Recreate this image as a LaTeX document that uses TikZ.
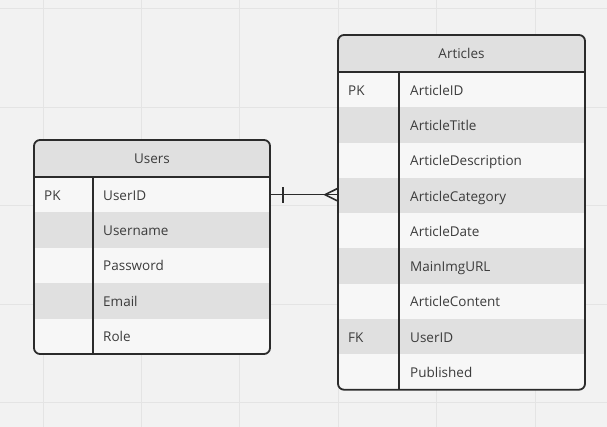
\documentclass[tikz,border=0pt]{standalone}
\usepackage{fontspec}
\setmainfont{Open Sans}
\definecolor{bg}{HTML}{F2F2F2}
\definecolor{gridc}{HTML}{E4E4E4}
\definecolor{hdrc}{HTML}{E0E0E0}
\definecolor{lightc}{HTML}{F7F7F7}
\definecolor{darkc}{HTML}{E0E0E0}
\definecolor{linec}{HTML}{2B2B2B}
\definecolor{txtc}{HTML}{3C3C3C}
\begin{document}
\begin{tikzpicture}[x=1pt,y=-1pt,
  tbl/.style={draw=linec, line width=1.8pt, rounded corners=6pt, inner sep=0pt},
  fld/.style={anchor=west, inner sep=0pt, text height=11pt, text depth=0pt, text=txtc,
     font=\fontsize{13.5}{16}\selectfont},
  ttl/.style={fld, anchor=center},
  rule/.style={draw=linec, line width=1.8pt},
  conn/.style={draw=linec, line width=1.6pt}]
\fill[bg] (0,0) rectangle (607,427);
\useasboundingbox (0,0) rectangle (607,427);
\foreach \gx in {43,141.4,239.8,338.2,436.6,535}
  \draw[gridc, line width=1pt] (\gx,0) -- (\gx,427);
\foreach \gy in {9,107.4,205.8,304.2,402.6}
  \draw[gridc, line width=1pt] (0,\gy) -- (607,\gy);

% ---------- Users ----------
\begin{scope}
\clip[rounded corners=6pt] (34,140) rectangle (270,354);
\fill[lightc] (34,140) rectangle (270,354);
\fill[hdrc] (34,140) rectangle (270,177);
\fill[darkc] (34,212.4) rectangle (270,247.8);
\fill[darkc] (34,283.2) rectangle (270,318.6);
\end{scope}
\node[tbl, minimum width=236pt, minimum height=214pt] (users) at (152,247) {};
\draw[rule] (34,177) -- (270,177);
\draw[rule] (93,177) -- (93,354);
\node[ttl] (ut) at (152,158.5) {Users};
\node[fld] (upk) at (44,194.7) {PK};
\node[fld] (u1) at (103,194.7) {UserID};
\node[fld] (u2) at (103,230.1) {Username};
\node[fld] (u3) at (103,265.5) {Password};
\node[fld] (u4) at (103,300.9) {Email};
\node[fld] (u5) at (103,336.3) {Role};

% ---------- Articles ----------
\begin{scope}
\clip[rounded corners=6pt] (338,35) rectangle (585,389.7);
\fill[lightc] (338,35) rectangle (585,389.7);
\fill[hdrc] (338,35) rectangle (585,72);
\foreach \ry in {107.3,177.9,248.5,319.1}
  \fill[darkc] (338,\ry) rectangle (585,\ry+35.3);
\end{scope}
\node[tbl, minimum width=247pt, minimum height=354.7pt] (articles) at (461.5,212.35) {};
\draw[rule] (338,72) -- (585,72);
\draw[rule] (399,72) -- (399,389.7);
\node[ttl] (at) at (461.5,53.5) {Articles};
\node[fld] (apk) at (348,89.65) {PK};
\node[fld] (a1) at (410,89.65) {ArticleID};
\node[fld] (a2) at (410,124.95) {ArticleTitle};
\node[fld] (a3) at (410,160.25) {ArticleDescription};
\node[fld] (a4) at (410,195.55) {ArticleCategory};
\node[fld] (a5) at (410,230.85) {ArticleDate};
\node[fld] (a6) at (410,266.15) {MainImgURL};
\node[fld] (a7) at (410,301.45) {ArticleContent};
\node[fld] (afk) at (348,336.75) {FK};
\node[fld] (a8) at (410,336.75) {UserID};
\node[fld] (a9) at (410,372.05) {Published};

% ---------- relation ----------
\coordinate (cs) at (users.east |- u1);
\coordinate (ce) at (articles.west |- u1);
\coordinate (tick) at (283,194.7);
\coordinate (cf) at (325,194.7);
\draw[conn] (cs) -- (ce);
\draw[conn] ([yshift=-8pt]tick) -- ([yshift=8pt]tick);
\draw[conn] ([yshift=-6pt]ce) -- (cf) -- ([yshift=6pt]ce);
\end{tikzpicture}
\end{document}
